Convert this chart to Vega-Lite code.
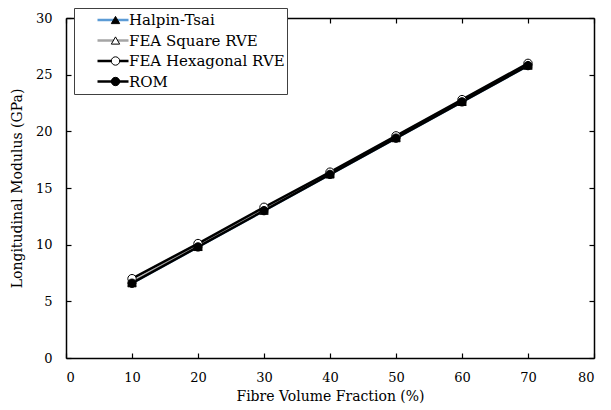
{
  "$schema": "https://vega.github.io/schema/vega-lite/v6.json",
  "width": 528,
  "height": 340,
  "autosize": "none",
  "padding": {"left": 66, "top": 18, "right": 17, "bottom": 52},
  "background": "white",
  "config": {
    "view": {"stroke": null},
    "font": "DejaVu Serif",
    "axis": {
      "grid": false,
      "domainColor": "black",
      "domainWidth": 1.5,
      "tickColor": "black",
      "tickWidth": 1.2,
      "tickSize": -5,
      "labelFont": "DejaVu Serif",
      "labelFontSize": 13,
      "labelColor": "black",
      "titleFont": "DejaVu Serif",
      "titleFontSize": 14,
      "titleFontWeight": "normal",
      "titleColor": "black"
    },
    "legend": {
      "labelFont": "DejaVu Serif",
      "labelFontSize": 15,
      "labelLimit": 300,
      "labelColor": "black"
    }
  },
  "data": {
    "values": [
      {"vf": 10, "E": 6.6, "series": "Halpin-Tsai"},
      {"vf": 20, "E": 9.8, "series": "Halpin-Tsai"},
      {"vf": 30, "E": 13.0, "series": "Halpin-Tsai"},
      {"vf": 40, "E": 16.2, "series": "Halpin-Tsai"},
      {"vf": 50, "E": 19.4, "series": "Halpin-Tsai"},
      {"vf": 60, "E": 22.6, "series": "Halpin-Tsai"},
      {"vf": 70, "E": 25.8, "series": "Halpin-Tsai"},
      {"vf": 10, "E": 6.7, "series": "FEA Square RVE"},
      {"vf": 20, "E": 9.9, "series": "FEA Square RVE"},
      {"vf": 30, "E": 13.1, "series": "FEA Square RVE"},
      {"vf": 40, "E": 16.3, "series": "FEA Square RVE"},
      {"vf": 50, "E": 19.5, "series": "FEA Square RVE"},
      {"vf": 60, "E": 22.7, "series": "FEA Square RVE"},
      {"vf": 70, "E": 25.9, "series": "FEA Square RVE"},
      {"vf": 10, "E": 7.0, "series": "FEA Hexagonal RVE"},
      {"vf": 20, "E": 10.1, "series": "FEA Hexagonal RVE"},
      {"vf": 30, "E": 13.3, "series": "FEA Hexagonal RVE"},
      {"vf": 40, "E": 16.4, "series": "FEA Hexagonal RVE"},
      {"vf": 50, "E": 19.6, "series": "FEA Hexagonal RVE"},
      {"vf": 60, "E": 22.8, "series": "FEA Hexagonal RVE"},
      {"vf": 70, "E": 26.0, "series": "FEA Hexagonal RVE"},
      {"vf": 10, "E": 6.6, "series": "ROM"},
      {"vf": 20, "E": 9.8, "series": "ROM"},
      {"vf": 30, "E": 13.0, "series": "ROM"},
      {"vf": 40, "E": 16.2, "series": "ROM"},
      {"vf": 50, "E": 19.4, "series": "ROM"},
      {"vf": 60, "E": 22.6, "series": "ROM"},
      {"vf": 70, "E": 25.8, "series": "ROM"}
    ]
  },
  "resolve": {"axis": {"x": "independent", "y": "independent"}},
  "layer": [
    {
      "mark": {"type": "line", "strokeWidth": 2.5},
      "encoding": {
        "x": {
          "field": "vf", "type": "quantitative",
          "scale": {"domain": [0, 80], "nice": false},
          "axis": {"orient": "bottom", "title": "Fibre Volume Fraction (%)", "values": [0, 10, 20, 30, 40, 50, 60, 70, 80], "labelPadding": 18, "titlePadding": 5}
        },
        "y": {
          "field": "E", "type": "quantitative",
          "scale": {"domain": [0, 30], "nice": false},
          "axis": {"orient": "left", "title": "Longitudinal Modulus (GPa)", "values": [0, 5, 10, 15, 20, 25, 30], "labelPadding": 19, "titlePadding": 11}
        },
        "color": {
          "field": "series", "type": "nominal",
          "scale": {
            "domain": ["Halpin-Tsai", "FEA Square RVE", "FEA Hexagonal RVE", "ROM"],
            "range": ["#5B9BD5", "#A5A5A5", "#000000", "#000000"]
          },
          "legend": {
            "title": null,
            "orient": "none",
            "legendX": 8,
            "legendY": -10,
            "padding": 2,
            "symbolType": "stroke",
            "symbolSize": 961,
            "symbolStrokeWidth": 2.5,
            "clipHeight": 20,
            "rowPadding": 0.5,
            "symbolOffset": 20,
            "labelOffset": -1,
            "strokeColor": "#404040",
            "fillColor": "white",
            "zindex": 1
          }
        }
      }
    },
    {
      "mark": {"type": "point", "filled": false, "stroke": "black", "strokeWidth": 1, "size": 70, "opacity": 1},
      "encoding": {
        "x": {
          "field": "vf", "type": "quantitative",
          "axis": {"orient": "top", "labels": false, "title": null, "values": [0, 10, 20, 30, 40, 50, 60, 70, 80]}
        },
        "y": {
          "field": "E", "type": "quantitative",
          "axis": {"orient": "right", "labels": false, "title": null, "values": [0, 5, 10, 15, 20, 25, 30]}
        },
        "shape": {
          "field": "series", "type": "nominal",
          "scale": {"range": ["circle", "triangle-up", "triangle-up", "circle"]},
          "legend": {
            "title": null,
            "orient": "none",
            "legendX": 8,
            "legendY": -10,
            "padding": 2,
            "values": ["Halpin-Tsai", "FEA Square RVE", "FEA Hexagonal RVE", "ROM"],
            "symbolSize": 70,
            "symbolStrokeWidth": 1,
            "clipHeight": 20,
            "rowPadding": 0.5,
            "symbolOffset": 32,
            "labelExpr": "''",
            "zindex": 2,
            "encode": {"symbols": {"update": {"stroke": {"value": "black"}, "strokeWidth": {"value": 1}}}}
          }
        },
        "fill": {
          "field": "series", "type": "nominal",
          "scale": {"range": ["white", "white", "black", "black"]},
          "legend": {
            "title": null,
            "orient": "none",
            "legendX": 8,
            "legendY": -10,
            "padding": 2,
            "values": ["Halpin-Tsai", "FEA Square RVE", "FEA Hexagonal RVE", "ROM"],
            "symbolSize": 70,
            "symbolStrokeWidth": 1,
            "clipHeight": 20,
            "rowPadding": 0.5,
            "symbolOffset": 32,
            "labelExpr": "''",
            "zindex": 2,
            "encode": {"symbols": {"update": {"stroke": {"value": "black"}, "strokeWidth": {"value": 1}}}}
          }
        }
      }
    }
  ]
}
